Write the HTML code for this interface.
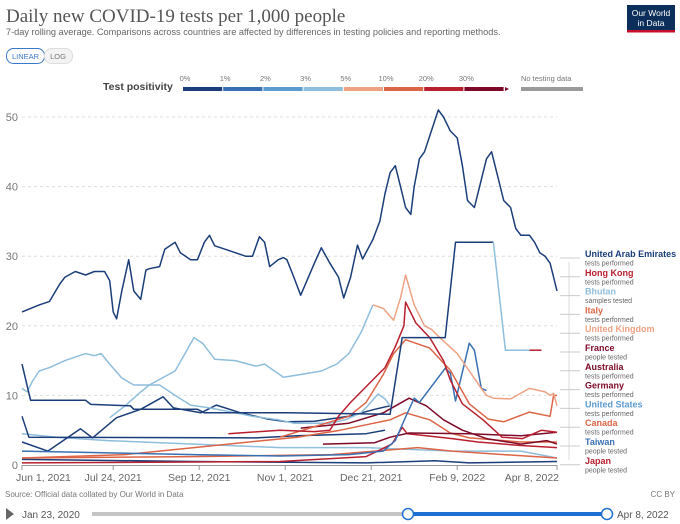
<!DOCTYPE html>
<html><head><meta charset="utf-8">
<style>
body{margin:0;background:#fff;width:680px;height:524px;overflow:hidden;font-family:"Liberation Sans",sans-serif;}
svg{position:absolute;left:0;top:0}
</style></head><body>
<svg id="chart" width="680" height="524" viewBox="0 0 680 524">
<text x="6" y="22" font-family="Liberation Serif" font-size="19" fill="#555">Daily new COVID-19 tests per 1,000 people</text>
<text x="6" y="35" font-size="9.2" fill="#666">7-day rolling average. Comparisons across countries are affected by differences in testing policies and reporting methods.</text>
<g><rect x="627" y="5" width="48" height="27" fill="#0b2e5a"/><rect x="627" y="30" width="48" height="2.5" fill="#c8102e"/>
<text x="651" y="16" font-size="8.5" fill="#fff" text-anchor="middle">Our World</text><text x="651" y="26" font-size="8.5" fill="#fff" text-anchor="middle">in Data</text></g>
<g><rect x="6.5" y="48.5" width="38" height="15" rx="7" fill="#fff" stroke="#3a78c8"/><text x="25.5" y="59" font-size="7.5" fill="#3a78c8" text-anchor="middle">LINEAR</text></g>
<g><rect x="44.5" y="48.5" width="28" height="15" rx="7" fill="#f3f3f3" stroke="#ddd"/><text x="58" y="59" font-size="7.5" fill="#777" text-anchor="middle">LOG</text></g>
<g id="legend">
<text x="103" y="90" font-size="10.5" font-weight="bold" fill="#444">Test positivity</text>
</g>
<g id="grid"></g><g id="series"></g><g id="labels"></g>
<text x="5" y="497" font-size="8" fill="#777">Source: Official data collated by Our World in Data</text>
<text x="675" y="497" font-size="8" fill="#777" text-anchor="end">CC BY</text>
<polygon points="6,508 6,520 14,514" fill="#666"/>
<text x="22" y="518" font-size="10" fill="#555">Jan 23, 2020</text>
<rect x="92" y="512" width="515" height="4" fill="#c5c5c5"/>
<rect x="408" y="512" width="199" height="4" fill="#1d6fd1"/>
<circle cx="408" cy="514" r="5.5" fill="#fff" stroke="#1d6fd1" stroke-width="1.5"/>
<circle cx="607" cy="514" r="5.5" fill="#fff" stroke="#1d6fd1" stroke-width="1.5"/>
<text x="617" y="518" font-size="10" fill="#555">Apr 8, 2022</text>
</svg>
<script>
const NS='http://www.w3.org/2000/svg';
const yTicks=[0,10,20,30,40,50];
const xTickDays=[0,53,103,153,203,253,311];
const xTickLabels=['Jun 1, 2021','Jul 24, 2021','Sep 12, 2021','Nov 1, 2021','Dec 21, 2021','Feb 9, 2022','Apr 8, 2022'];
const legendLabels=['0%','1%','2%','3%','5%','10%','20%','30%'];
const C={n:'#1b3e7a',b:'#3a70b2',m:'#5b9bd0',l:'#8fbedc',p:'#eea283',s:'#dd6547',r:'#b9202f',d:'#7d0a28'};
const uaeDays=[0,5,10,16,22,25,31,37,42,48,51,53,55,58,62,65,69,72,74,80,83,89,92,98,102,106,109,112,118,124,130,134,138,141,144,149,152,154,158,162,170,174,179,184,187,191,195,198,204,208,211,214,217,220,223,226,228,231,234,238,242,245,249,253,256,259,263,266,270,273,276,280,284,287,290,295,298,301,304,307,311];
const uaeVals=[22,22.5,23,23.5,26,27,27.8,27.3,27.8,27.8,26.5,22,21,25,29.5,25,23.8,28,28.2,28.5,31,32,30.5,29.5,29.5,32,33,31.5,31,30.5,30,30,32.8,32,28.5,29.5,29.8,29.5,27,24.4,29,31.2,29,27,24,27,31.6,29.6,32.4,35,39,42,43,40,37,36,40,44,45,48,51,50,48,47,43,38,37,40,44,45,42,38,37,34,33,33,32,30.5,30,29,25];
const hkDays=[0,5,37,40,63,65,102,106,154,214,221,246,252,274,281,295,302];
const hkVals=[14.5,9.3,9.3,8.7,8.5,8,8,7.5,7.5,7.3,18.3,18.3,32,32,16.5,16.5,16.5];
const bhutanDays=[0,3,6,10,16,25,37,42,46,51,58,65,80,89,98,109,124,134,149,158,179,188,197,201,207,211,214];
const bhutanVals=[11,10.5,12,13.5,14,15,16,15.7,16,14.5,12.5,11.5,11.5,10,8.6,8.2,7.5,7,6.5,6,6,6.5,7.5,8.5,10.2,9.5,8.5];
const ukDays=[51,60,69,74,89,100,105,112,124,136,141,152,162,174,183,190,197,204,210,216,220,223,228,234,238,242,253,260,267,270,274,284,295,304,307,309,311];
const ukVals=[6.8,8.5,10.5,11.5,13.5,18.3,17.5,15.2,15,14.2,14.5,12.6,13,13.5,14.5,16,19,23,22.5,20.8,24,27.3,23,20,19.5,18.5,16,13.5,11,10,9.6,9.5,11,10.5,10,10.3,8.5];
const italyDays=[120,150,170,179,184,191,203,211,217,222,223,229,237,245,249,256,268,279,291,302,311];
const italyVals=[4.5,5,4.8,5,7,9,12,14,17,20,23.4,20.4,18.3,15,12.2,8.8,6.5,4,3.8,5,4.7];
const franceDays=[162,190,210,225,235,245,256,270,290,305,311];
const franceVals=[5.3,6,7.5,9.6,8.5,6.5,5,3.8,3,3.5,3];
const germanyDays=[175,205,214,225,260,290,311];
const germanyVals=[3,3.2,4,4.6,4.5,4.2,4.7];
const australiaDays=[0,150,200,215,221,224,235,250,265,290,311];
const australiaVals=[0.3,0.5,1.2,3,5.4,4.5,4.2,3.8,3.3,2.8,2.5];
const canadaDays=[150,170,190,200,210,216,223,237,249,260,271,280,295,307,309,311];
const canadaVals=[4,5.5,7,9,13,16,18,16.8,13.6,8.8,6.6,6.2,7.6,7,10,10];
const otherDays=[0,60,100,140,160,185,214,223,237,249,260,290,311];
const otherVals=[1,1.5,2.5,3.5,4,5,6.5,7.5,6.5,4.6,3.9,3.3,3.3];
const usDays=[0,40,100,150,190,210,217,223,228,231,246,249,252,260,263,267,270];
const usVals=[2,1.8,1.5,1.3,1.5,2,3.5,6.9,9.6,9,13.9,13.2,9.2,17.5,16.5,11,10.7];
const taiwanDays=[0,100,200,240,260,311];
const taiwanVals=[0.8,0.5,0.3,0.6,0.3,0.5];
const japanDays=[0,100,180,230,250,280,311];
const japanVals=[1,1.2,1.5,2.5,2,1.5,1];
const navyADays=[0,15,34,41,55,69,82,88,104,113,127,143,154,170,190,205,214];
const navyAVals=[3.3,2,5.2,3.9,6.8,8,9.8,8.2,7.5,8.6,7.5,6.6,6.2,6.3,7,8,8.5];
const navyBDays=[0,4,136,160,200,211];
const navyBVals=[7,4,3.9,4.2,4.5,5];
const lightDays=[0,20,50,100,150,200,250,290,311];
const lightVals=[4.5,4,3.5,3,2.5,2.5,2,2,1];
const seriesNames=['United Arab Emirates','Hong Kong','Bhutan','Italy','United Kingdom','France','Australia','Germany','United States','Canada','Taiwan','Japan'];
const seriesSubs=['tests performed','tests performed','samples tested','tests performed','tests performed','people tested','tests performed','tests performed','tests performed','tests performed','people tested','people tested'];
const seriesColors=[C.n,C.r,C.l,C.s,C.p,C.d,C.d,C.d,C.m,C.s,C.b,C.r];

const x=d=>22+d*(535/311), y=v=>465-v*6.96;
function el(t,a,p){const e=document.createElementNS(NS,t);for(const k in a)e.setAttribute(k,a[k]);p.appendChild(e);return e;}
const grid=document.getElementById('grid');
yTicks.forEach(t=>{
 if(t>0){const l=el('line',{x1:22,x2:557,y1:y(t),y2:y(t),stroke:'#ddd','stroke-dasharray':'3,3'},grid);
 
 }
 const tx=el('text',{x:18,y:y(t)+4,'font-size':11,fill:'#777','text-anchor':'end'},grid);tx.textContent=t;
 
 
});
const ax=el('line',{x1:22,x2:557,y1:465.5,y2:465.5,stroke:'#999'},grid);


xTickDays.forEach((d,i)=>{
 el('line',{x1:x(d),x2:x(d),y1:465,y2:470,stroke:'#999'},grid);
 const last=i==xTickDays.length-1;
 const tx=el('text',{x:last?x(d)+2:(i==0?x(d)-6:x(d)),y:481,'font-size':10.5,fill:'#666','text-anchor':last?'end':(i==0?'start':'middle')},grid);
 tx.textContent=xTickLabels[i];
 
 
});
const lg=document.getElementById('legend');
const barCols=[C.n,C.b,C.m,C.l,C.p,C.s,C.r,C.d];
barCols.forEach((c,i)=>{
 const w=40.2,x0=183+i*w;
 const r=el('rect',{x:x0,y:87,width:w-1,height:4,fill:c},lg);
 
 
 const t=el('text',{x:x0+2,y:81,'font-size':7.5,fill:'#777','text-anchor':'middle'},lg);t.textContent=legendLabels[i];
});
el('polygon',{points:'505,87 509,89 505,91',fill:C.d},lg);
el('rect',{x:521,y:87,width:62,height:4,fill:'#9a9a9a'},lg);
const nt=el('text',{x:521,y:81,'font-size':7.5,fill:'#777'},lg);nt.textContent='No testing data';
const sg=document.getElementById('series');
function line(days,vals,col,name,from,to){
 from=from||0;to=to==null?days.length-1:to;
 let d='';for(let i=from;i<=to;i++)d+=(i==from?'M':'L')+x(days[i]).toFixed(1)+','+y(vals[i]).toFixed(1);
 const p=el('path',{d:d,fill:'none',stroke:col,'stroke-width':1.5,'stroke-linejoin':'round'},sg);
 
 
}
line(lightDays,lightVals,C.l,'line-light-blue-low');
line(taiwanDays,taiwanVals,C.n,'line-taiwan');
line(japanDays,japanVals,C.s,'line-japan');
line(australiaDays,australiaVals,C.r,'line-australia');
line(navyBDays,navyBVals,C.n,'line-navy-b');
line(navyADays,navyAVals,C.n,'line-navy-a');
line(otherDays,otherVals,C.s,'line-canada-low');
line(germanyDays,germanyVals,C.d,'line-germany');
line(franceDays,franceVals,C.d,'line-france');
line(bhutanDays,bhutanVals,C.l,'line-bhutan');
line(usDays,usVals,C.b,'line-united-states');
line(canadaDays,canadaVals,C.s,'line-canada');
line(italyDays,italyVals,C.r,'line-italy');
line(ukDays,ukVals,C.l,'line-uk-early',0,17);
line(ukDays,ukVals,C.p,'line-uk',17);
line(hkDays,hkVals,C.n,'line-hong-kong',0,13);
line(hkDays,hkVals,C.l,'line-hong-kong-late',13,15);
line(hkDays,hkVals,C.r,'line-hong-kong-end',15);
line(uaeDays,uaeVals,C.n,'line-uae');
const lb=document.getElementById('labels');
el('path',{d:'M569,262V460',stroke:'#ddd','stroke-width':1,fill:'none'},lb);
seriesNames.forEach((n,i)=>{
 const ly=257+i*18.8;
 el('path',{d:'M560,'+(ly+1)+'H569M569,'+(ly+1)+'H580',stroke:'#ccc',fill:'none'},lb);
 const t=el('text',{x:585,y:ly,'font-size':9,'font-weight':'bold',fill:seriesColors[i]},lb);t.textContent=n;
 
 
 const s=el('text',{x:585,y:ly+8.5,'font-size':7,fill:'#666'},lb);s.textContent=seriesSubs[i];
});
</script>
</body></html>
